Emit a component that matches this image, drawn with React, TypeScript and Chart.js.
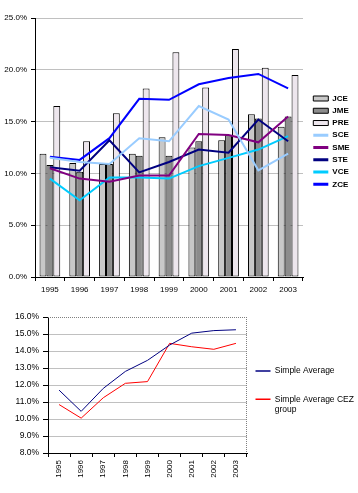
import React, { useEffect, useRef } from 'react';
import { Chart, registerables } from 'chart.js';

Chart.register(...registerables);

const FONT = 'Liberation Sans, Arial, sans-serif';

// ---------- data ----------
const years = ['1995', '1996', '1997', '1998', '1999', '2000', '2001', '2002', '2003'];

const jce = [11.9, 11.0, 10.9, 11.9, 13.5, 12.5, 13.2, 15.7, 14.5];
const jme = [10.8, 10.15, 10.9, 11.7, 11.7, 13.1, 13.7, 15.3, 15.5];
const pre = [16.5, 13.1, 15.8, 18.2, 21.7, 18.3, 22.0, 20.2, 19.5];
const sce = [11.5, 11.1, 10.9, 13.4, 13.1, 16.5, 15.2, 10.3, 11.9];
const sme = [10.5, 9.5, 9.2, 9.8, 9.8, 13.8, 13.7, 13.0, 15.5];
const ste = [10.6, 10.25, 13.2, 10.1, 11.1, 12.3, 12.0, 15.2, 13.1];
const vce = [9.5, 7.4, 9.6, 9.6, 9.5, 10.7, 11.5, 12.3, 13.6];
const zce = [11.6, 11.3, 13.4, 17.2, 17.1, 18.6, 19.2, 19.6, 18.2];

const simpleAverage = [11.7, 10.45, 11.8, 12.8, 13.45, 14.35, 15.05, 15.2, 15.25];
const simpleAverageCez = [10.85, 10.05, 11.25, 12.1, 12.2, 14.45, 14.25, 14.1, 14.45];

const topTicks = [0, 5, 10, 15, 20, 25];
const bottomTicks = [8, 9, 10, 11, 12, 13, 14, 15, 16];

// ---------- helpers ----------
const legendPlacer = (x: number, yTop: number, width: number) => ({
  id: 'legendPlacer',
  beforeLayout(chart: any) {
    const lg = chart.legend;
    if (lg && !lg.__patched) {
      const f = lg.fit;
      lg.fit = function () {
        f.call(this);
        this.width = width;
      };
      lg.__patched = true;
    }
  },
  afterLayout(chart: any) {
    const lg = chart.legend;
    if (!lg) return;
    const pad = lg.options.labels.padding;
    lg.left = x - pad;
    lg.right = chart.width + 40;
    lg.width = lg.right - lg.left;
    const colH = lg.columnSizes && lg.columnSizes[0] ? lg.columnSizes[0].height : 0;
    const cur = (lg.top + pad + lg.bottom - colH) / 2;
    const dy = yTop - cur;
    lg.top += dy;
    lg.bottom += dy;
  },
});

const framePlugin = {
  id: 'frame',
  afterDatasetsDraw(chart: any) {
    const { ctx, chartArea } = chart;
    const { left, right, top, bottom } = chartArea;
    ctx.save();
    ctx.strokeStyle = '#808080';
    ctx.lineWidth = 1;
    ctx.setLineDash([1, 1]);
    ctx.beginPath();
    ctx.moveTo(Math.round(left), Math.round(top) + 0.5);
    ctx.lineTo(Math.round(right), Math.round(top) + 0.5);
    ctx.moveTo(Math.round(right) - 0.5, Math.round(top));
    ctx.lineTo(Math.round(right) - 0.5, Math.round(bottom));
    ctx.stroke();
    ctx.restore();
  },
};

function TopChart() {
  const ref = useRef<HTMLCanvasElement | null>(null);
  useEffect(() => {
    if (!ref.current) return;
    const bar = (label: string, data: number[], color: string) => ({
      type: 'bar',
      label,
      data,
      backgroundColor: color,
      borderColor: '#000000',
      borderWidth: 1,
      borderSkipped: false,
      order: 1,
      categoryPercentage: 0.695,
      barPercentage: 1,
    });
    const line = (label: string, data: number[], color: string) => ({
      type: 'line',
      label,
      data,
      borderColor: color,
      backgroundColor: color,
      borderWidth: 2,
      pointRadius: 0,
      tension: 0,
      fill: false,
      order: 0,
    });
    const chart = new Chart(ref.current, {
      type: 'bar',
      data: {
        labels: years,
        datasets: [
          bar('JCE', jce, '#c8c8c8'),
          bar('JME', jme, '#8c8c8c'),
          bar('PRE', pre, '#ede6ed'),
          line('SCE', sce, '#99ccff'),
          line('SME', sme, '#800080'),
          line('STE', ste, '#000080'),
          line('VCE', vce, '#00ccff'),
          line('ZCE', zce, '#0000ff'),
        ] as any,
      },
      options: {
        animation: false,
        responsive: false,
        devicePixelRatio: 1,
        layout: { padding: { top: 18, left: 0, right: 0, bottom: 0 } },
        plugins: {
          tooltip: { enabled: false },
          legend: {
            position: 'right',
            labels: {
              usePointStyle: true,
              pointStyleWidth: 15,
              boxHeight: 5,
              padding: 4.26,
              color: '#000',
              font: { family: FONT, size: 8, weight: 'bold' },
              generateLabels: (c: any) => {
                const items = (Chart as any).defaults.plugins.legend.labels.generateLabels(c);
                items.forEach((it: any) => {
                  const ds = c.data.datasets[it.datasetIndex];
                  if (ds.type === 'line') {
                    it.pointStyle = 'line';
                    it.lineWidth = 3;
                  } else {
                    it.pointStyle = 'rect';
                    it.lineWidth = 1;
                    it.strokeStyle = '#000';
                  }
                });
                items.sort((a: any, b: any) => a.datasetIndex - b.datasetIndex);
                return items;
              },
            },
          },
        },
        scales: {
          x: {
            offset: true,
            grid: { offset: true, drawOnChartArea: false, drawTicks: true, tickLength: 4, tickColor: '#000' },
            border: { color: '#000', width: 1 },
            ticks: { color: '#000', font: { family: FONT, size: 8 }, padding: 4, maxRotation: 0, autoSkip: false },
            afterFit: (s: any) => { s.height = 23; },
          },
          y: {
            min: 0,
            max: 25,
            afterBuildTicks: (s: any) => { s.ticks = topTicks.map((v) => ({ value: v })); },
            ticks: {
              color: '#000',
              font: { family: FONT, size: 8 },
              padding: 4,
              callback: (v: any) => Number(v).toFixed(1) + '%',
            },
            grid: {
              color: (c: any) => (c.tick && c.tick.value === 0 ? 'rgba(0,0,0,0)' : '#c0c0c0'),
              tickColor: '#000',
              tickLength: 4,
            },
            border: { color: '#000', width: 1 },
            afterFit: (s: any) => { s.width = 35; },
          },
        },
      } as any,
      plugins: [legendPlacer(313.3, 94.5, 55)],
    } as any);
    return () => chart.destroy();
  }, []);
  return <canvas ref={ref} width={358} height={300} style={{ position: 'absolute', left: 0, top: 0 }} />;
}

function BottomChart() {
  const ref = useRef<HTMLCanvasElement | null>(null);
  useEffect(() => {
    if (!ref.current) return;
    const chart = new Chart(ref.current, {
      type: 'line',
      data: {
        labels: years,
        datasets: [
          { label: 'Simple Average', data: simpleAverage, borderColor: '#000080', backgroundColor: '#000080', borderWidth: 1, pointRadius: 0, tension: 0, fill: false },
          { label: 'Simple Average CEZ group', data: simpleAverageCez, borderColor: '#ff0000', backgroundColor: '#ff0000', borderWidth: 1, pointRadius: 0, tension: 0, fill: false },
        ],
      },
      options: {
        animation: false,
        responsive: false,
        devicePixelRatio: 1,
        layout: { padding: { top: 17, left: 0, right: 0, bottom: 0 } },
        plugins: {
          tooltip: { enabled: false },
          legend: {
            position: 'right',
            labels: {
              usePointStyle: true,
              pointStyleWidth: 15,
              boxHeight: 5,
              padding: 19.8,
              color: '#000',
              font: { family: FONT, size: 8.5, lineHeight: 1.2 },
              generateLabels: (c: any) => {
                const items = (Chart as any).defaults.plugins.legend.labels.generateLabels(c);
                items.forEach((it: any) => {
                  it.pointStyle = 'line';
                  it.lineWidth = 1.5;
                  if (it.text === 'Simple Average CEZ group') it.text = ['Simple Average CEZ', 'group'];
                });
                return items;
              },
            },
          },
        },
        scales: {
          x: {
            offset: true,
            grid: { offset: true, drawOnChartArea: false, drawTicks: true, tickLength: 4, tickColor: '#000' },
            border: { color: '#000', width: 1 },
            ticks: { color: '#000', font: { family: FONT, size: 8 }, padding: 3, minRotation: 90, maxRotation: 90, autoSkip: false },
            afterFit: (s: any) => { s.height = 40; },
          },
          y: {
            min: 8,
            max: 16,
            afterBuildTicks: (s: any) => { s.ticks = bottomTicks.map((v) => ({ value: v })); },
            ticks: {
              color: '#000',
              font: { family: FONT, size: 8.5 },
              padding: 4,
              callback: (v: any) => Number(v).toFixed(1) + '%',
            },
            grid: {
              color: (c: any) => (c.tick && (c.tick.value === 8 || c.tick.value === 16) ? 'rgba(0,0,0,0)' : '#c0c0c0'),
              tickColor: '#000',
              tickLength: 5,
            },
            border: { color: '#000', width: 1 },
            afterFit: (s: any) => { s.width = 48; },
          },
        },
      } as any,
      plugins: [legendPlacer(255.5, 66.75, 111), framePlugin],
    } as any);
    return () => chart.destroy();
  }, []);
  return <canvas ref={ref} width={358} height={193} style={{ position: 'absolute', left: 0, top: 300 }} />;
}

export default function App() {
  return (
    <div style={{ position: 'fixed', left: 0, top: 0, width: 358, height: 493, background: '#fff', overflow: 'hidden' }}>
      <TopChart />
      <BottomChart />
    </div>
  );
}
